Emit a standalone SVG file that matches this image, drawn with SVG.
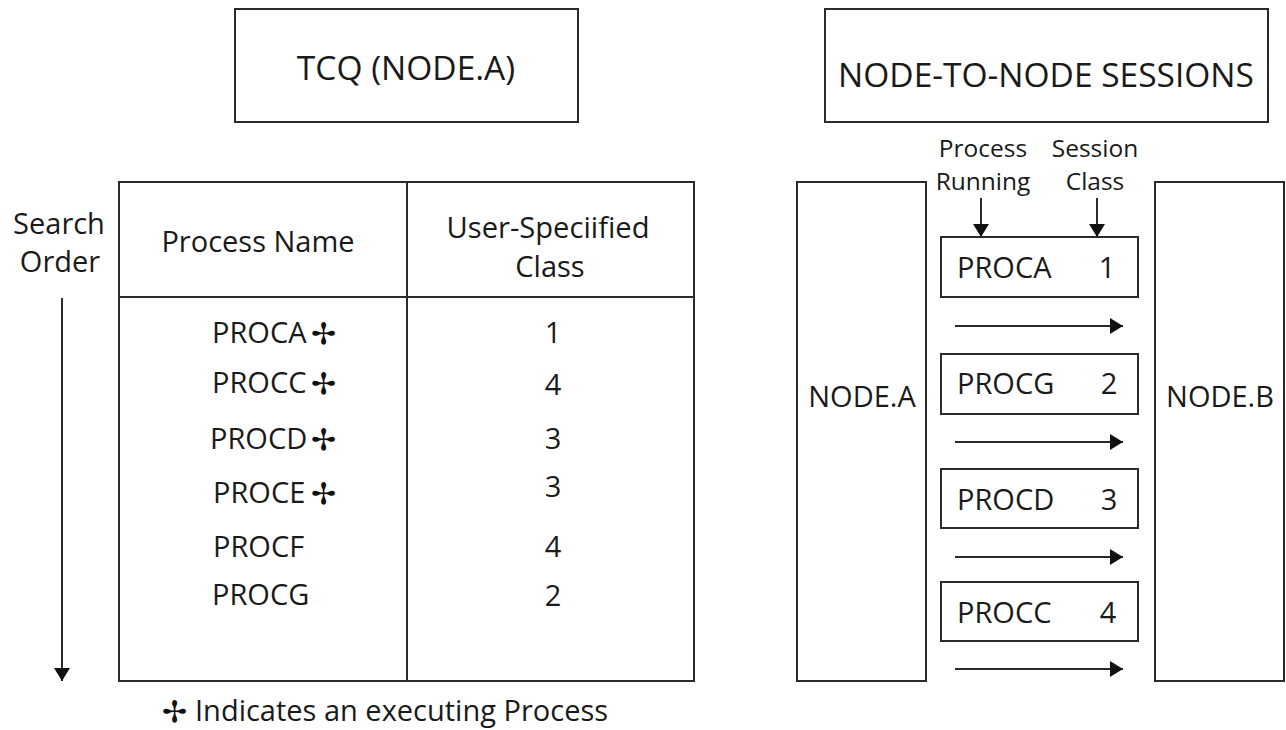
<svg xmlns="http://www.w3.org/2000/svg" width="1286" height="730" viewBox="0 0 1286 730">
<style>
  .box { fill: #ffffff; stroke: #2b2b2b; stroke-width: 2; }
  .ln { fill: none; stroke: #2b2b2b; stroke-width: 2; }
  .t { font-family: "Open Sans", "DejaVu Sans", sans-serif; font-size: 29px; fill: #1a1a1a; }
  .h { font-family: "Open Sans", "DejaVu Sans", sans-serif; font-size: 33.5px; fill: #1a1a1a; }
  .s { font-family: "Open Sans", "DejaVu Sans", sans-serif; font-size: 24.5px; fill: #1a1a1a; }
  .sym { font-family: "DejaVu Sans", sans-serif; font-size: 30px; fill: #111111; }
  .mid { text-anchor: middle; }
</style>
<defs>
  <marker id="ah" viewBox="0 0 13 16" refX="13" refY="8" markerWidth="13" markerHeight="16" markerUnits="userSpaceOnUse" orient="auto">
    <path d="M0,0 L13,8 L0,16 Z" fill="#111111"/>
  </marker>
</defs>
<rect width="1286" height="730" fill="#ffffff"/>

<g id="tcq-title">
  <rect class="box" x="235" y="9" width="343" height="113"/>
  <text class="h mid" x="406" y="80">TCQ (NODE.A)</text>
</g>

<g id="sessions-title">
  <rect class="box" x="825" y="9" width="443" height="113"/>
  <text class="h mid" x="1046" y="87">NODE-TO-NODE SESSIONS</text>
</g>

<g id="search-order">
  <text class="t mid" x="59" y="234">Search</text>
  <text class="t mid" x="60" y="272">Order</text>
</g>

<g id="tcq-table">
  <rect class="box" x="119" y="182" width="575" height="499"/>
  <line class="ln" x1="119" y1="297" x2="694" y2="297"/>
  <line class="ln" x1="407" y1="182" x2="407" y2="681"/>
  <text class="t mid" x="258" y="252">Process Name</text>
  <text class="t mid" x="548" y="238" textLength="203" lengthAdjust="spacingAndGlyphs">User-Speciified</text>
  <text class="t mid" x="550" y="277">Class</text>

  <text class="t" x="212" y="343">PROCA<tspan class="sym" x="311" y="344">✢</tspan></text>
  <text class="t" x="212" y="393">PROCC<tspan class="sym" x="311" y="394">✢</tspan></text>
  <text class="t" x="210" y="449">PROCD<tspan class="sym" x="311" y="450">✢</tspan></text>
  <text class="t" x="213" y="503">PROCE<tspan class="sym" x="311" y="504">✢</tspan></text>
  <text class="t" x="213" y="557">PROCF</text>
  <text class="t" x="212" y="605">PROCG</text>

  <text class="t mid" x="553" y="343">1</text>
  <text class="t mid" x="553" y="395">4</text>
  <text class="t mid" x="553" y="449">3</text>
  <text class="t mid" x="553" y="497">3</text>
  <text class="t mid" x="553" y="557">4</text>
  <text class="t mid" x="553" y="606">2</text>
</g>

<g id="legend">
  <text class="t" x="162" y="721"><tspan class="sym" y="722">✢</tspan><tspan x="195" y="721">Indicates an executing Process</tspan></text>
</g>

<g id="node-a">
  <rect class="box" x="797" y="182" width="129" height="499"/>
  <text class="t mid" x="862" y="407">NODE.A</text>
</g>

<g id="node-b">
  <rect class="box" x="1155" y="182" width="129" height="499"/>
  <text class="t mid" x="1220" y="407">NODE.B</text>
</g>

<g id="column-labels">
  <text class="s mid" x="983" y="157">Process</text>
  <text class="s mid" x="983" y="190">Running</text>
  <text class="s mid" x="1095" y="157">Session</text>
  <text class="s mid" x="1095" y="190">Class</text>
</g>

<g id="session-proca">
  <rect class="box" x="941" y="237" width="197" height="60"/>
  <text class="t" x="957" y="278">PROCA</text>
  <text class="t mid" x="1107" y="278">1</text>
</g>
<g id="session-procg">
  <rect class="box" x="941" y="354" width="197" height="60"/>
  <text class="t" x="957" y="394">PROCG</text>
  <text class="t mid" x="1109" y="394">2</text>
</g>
<g id="session-procd">
  <rect class="box" x="941" y="469" width="197" height="59"/>
  <text class="t" x="957" y="510">PROCD</text>
  <text class="t mid" x="1109" y="510">3</text>
</g>
<g id="session-procc">
  <rect class="box" x="941" y="582" width="197" height="59"/>
  <text class="t" x="957" y="623">PROCC</text>
  <text class="t mid" x="1108" y="623">4</text>
</g>

<g id="connectors">
  <line class="ln" x1="62" y1="298" x2="62" y2="681" marker-end="url(#ah)"/>
  <line class="ln" x1="981" y1="198" x2="981" y2="237" marker-end="url(#ah)"/>
  <line class="ln" x1="1097" y1="198" x2="1097" y2="237" marker-end="url(#ah)"/>
  <line class="ln" x1="955" y1="326" x2="1123" y2="326" marker-end="url(#ah)"/>
  <line class="ln" x1="955" y1="442" x2="1123" y2="442" marker-end="url(#ah)"/>
  <line class="ln" x1="955" y1="557" x2="1123" y2="557" marker-end="url(#ah)"/>
  <line class="ln" x1="955" y1="669" x2="1123" y2="669" marker-end="url(#ah)"/>
</g>
</svg>
